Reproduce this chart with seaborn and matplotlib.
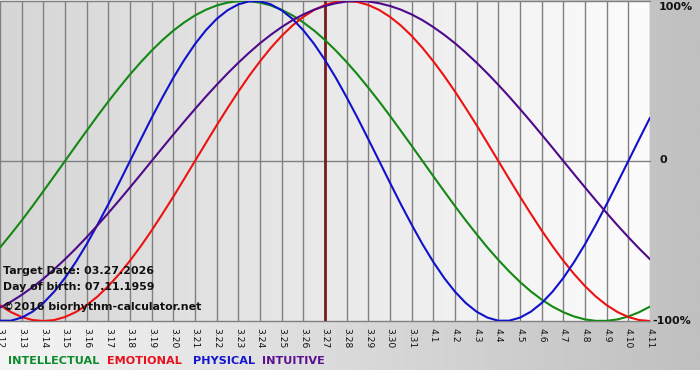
import numpy as np
import pandas as pd
import matplotlib
matplotlib.use("Agg")
import matplotlib.pyplot as plt
from matplotlib.colors import LinearSegmentedColormap
import seaborn as sns

dates = ["3.12", "3.13", "3.14", "3.15", "3.16", "3.17", "3.18", "3.19", "3.20", "3.21",
         "3.22", "3.23", "3.24", "3.25", "3.26", "3.27", "3.28", "3.29", "3.30", "3.31",
         "4.1", "4.2", "4.3", "4.4", "4.5", "4.6", "4.7", "4.8", "4.9", "4.10", "4.11"]
sample_day = [i / 2 for i in range(61)]
intellectual = [-0.541, -0.458, -0.372, -0.282, -0.189, -0.095, 0.000, 0.095, 0.189, 0.282,
                0.372, 0.458, 0.541, 0.618, 0.690, 0.756, 0.815, 0.866, 0.910, 0.945,
                0.972, 0.990, 0.999, 0.999, 0.990, 0.972, 0.945, 0.910, 0.866, 0.815,
                0.756, 0.690, 0.618, 0.541, 0.458, 0.372, 0.282, 0.189, 0.095, 0.000,
                -0.095, -0.189, -0.282, -0.372, -0.458, -0.541, -0.618, -0.690, -0.756, -0.815,
                -0.866, -0.910, -0.945, -0.972, -0.990, -0.999, -0.999, -0.990, -0.972, -0.945,
                -0.910]
emotional = [-0.901, -0.944, -0.975, -0.994, -1.000, -0.994, -0.975, -0.944, -0.901, -0.847,
             -0.782, -0.707, -0.623, -0.532, -0.434, -0.330, -0.223, -0.112, 0.000, 0.112,
             0.223, 0.330, 0.434, 0.532, 0.623, 0.707, 0.782, 0.847, 0.901, 0.944,
             0.975, 0.994, 1.000, 0.994, 0.975, 0.944, 0.901, 0.847, 0.782, 0.707,
             0.623, 0.532, 0.434, 0.330, 0.223, 0.112, 0.000, -0.112, -0.223, -0.330,
             -0.434, -0.532, -0.623, -0.707, -0.782, -0.847, -0.901, -0.944, -0.975, -0.994,
             -1.000]
physical = [-0.998, -0.998, -0.979, -0.942, -0.888, -0.817, -0.731, -0.631, -0.520, -0.398,
            -0.270, -0.136, 0.000, 0.136, 0.270, 0.398, 0.520, 0.631, 0.731, 0.817,
            0.888, 0.942, 0.979, 0.998, 0.998, 0.979, 0.942, 0.888, 0.817, 0.731,
            0.631, 0.520, 0.398, 0.270, 0.136, 0.000, -0.136, -0.270, -0.398, -0.520,
            -0.631, -0.731, -0.817, -0.888, -0.942, -0.979, -0.998, -0.998, -0.979, -0.942,
            -0.888, -0.817, -0.731, -0.631, -0.520, -0.398, -0.270, -0.136, 0.000, 0.136,
            0.270]
intuitive = [-0.916, -0.880, -0.837, -0.789, -0.736, -0.677, -0.614, -0.547, -0.476, -0.402,
             -0.325, -0.246, -0.165, -0.083, 0.000, 0.083, 0.165, 0.246, 0.325, 0.402,
             0.476, 0.547, 0.614, 0.677, 0.736, 0.789, 0.837, 0.880, 0.916, 0.946,
             0.969, 0.986, 0.997, 1.000, 0.997, 0.986, 0.969, 0.946, 0.916, 0.880,
             0.837, 0.789, 0.736, 0.677, 0.614, 0.547, 0.476, 0.402, 0.325, 0.246,
             0.165, 0.083, 0.000, -0.083, -0.165, -0.246, -0.325, -0.402, -0.476, -0.547,
             -0.614]
series_names = ["INTELLECTUAL", "EMOTIONAL", "PHYSICAL", "INTUITIVE"]
target_date = "3.27"
y_labels = ["100%", "0", "-100%"]
y_values = [1, 0, -1]
info_lines = ["Target Date: 03.27.2026", "Day of birth: 07.11.1959",
              "\u00a92016 biorhythm-calculator.net"]

line_colors = {"INTELLECTUAL": "#138813", "EMOTIONAL": "#ee1111",
               "PHYSICAL": "#1111cc", "INTUITIVE": "#4e0a8a"}
text_colors = {"INTELLECTUAL": "#0c8a2c", "EMOTIONAL": "#e8101c",
               "PHYSICAL": "#1515d0", "INTUITIVE": "#5a1090"}

rows = []
for name, vals in zip(series_names, [intellectual, emotional, physical, intuitive]):
    for d, v in zip(sample_day, vals):
        rows.append({"day": d, "value": v, "series": name})
df = pd.DataFrame(rows)

sns.set_style("white")
plt.rcParams["font.family"] = ["DejaVu Sans"]

W, H = 700, 380
fig = plt.figure(figsize=(W / 100, H / 100), dpi=100)
fig.patch.set_facecolor("white")

# background panel: light on the left to darker gray on the right
bg = fig.add_axes([0, 0, 1, 1], zorder=0)
bg.set_xlim(0, W)
bg.set_ylim(H, 0)
bg.axis("off")
grad = np.linspace(0, 1, 256)[None, :]
cm_bg = LinearSegmentedColormap.from_list("bg", ["#f4f4f4", "#c0c0c0"])
bg.imshow(grad, cmap=cm_bg, aspect="auto", extent=(0, W, 370, 0), zorder=0)

# plot area
px_left, px_right, px_top, px_bottom = 0, 650, 1, 321
ax = fig.add_axes([px_left / W, 1 - px_bottom / H, (px_right - px_left) / W,
                   (px_bottom - px_top) / H], zorder=1)
n = len(dates)
ax.set_xlim(0, n - 1)
ax.set_ylim(-1, 1)
cm_plot = LinearSegmentedColormap.from_list("pl", ["#d6d6d6", "#fcfcfc"])
ax.imshow(grad, cmap=cm_plot, aspect="auto", extent=(0, n - 1, -1, 1), zorder=0)

for i in range(n):
    ax.axvline(i, color="#808080", lw=1.0, zorder=1)
for yv in y_values:
    ax.axhline(yv, color="#808080", lw=1.0, zorder=1, clip_on=False)

ti = dates.index(target_date)
ax.axvline(ti, color="#7a1c1c", lw=2.0, zorder=2)

sns.lineplot(data=df, x="day", y="value", hue="series", hue_order=series_names,
             palette=line_colors, linewidth=1.5, legend=False, ax=ax, zorder=3)

ax.set_xlabel("")
ax.set_ylabel("")
ax.set_xticks(range(n))
ax.set_xticklabels(dates, rotation=-90, fontsize=6.6, color="#111111")
ax.tick_params(axis="x", direction="out", length=4, width=1, color="#808080", pad=1)
ax.set_yticks([])
for s in ax.spines.values():
    s.set_visible(False)

# right-side percentage labels
label_px = [(659, 7), (659, 160), (652, 321)]
for lab, (xp, yp) in zip(y_labels, label_px):
    fig.text(xp / W, 1 - yp / H, lab, ha="left", va="center", fontsize=8,
             fontweight="bold", color="#111111", zorder=6)

# info text
for txt, ypx in zip(info_lines, [271, 287, 307]):
    fig.text(3 / W, 1 - ypx / H, txt, ha="left", va="center", fontsize=7.9,
             fontweight="bold", color="#111111", zorder=6)

# legend text
xs = [8, 107, 193, 262]
for name, xp in zip(series_names, xs):
    fig.text(xp / W, 1 - 361 / H, name, ha="left", va="center", fontsize=8.1,
             fontweight="bold", color=text_colors[name], zorder=6)

fig.savefig("out.png", dpi=100)
